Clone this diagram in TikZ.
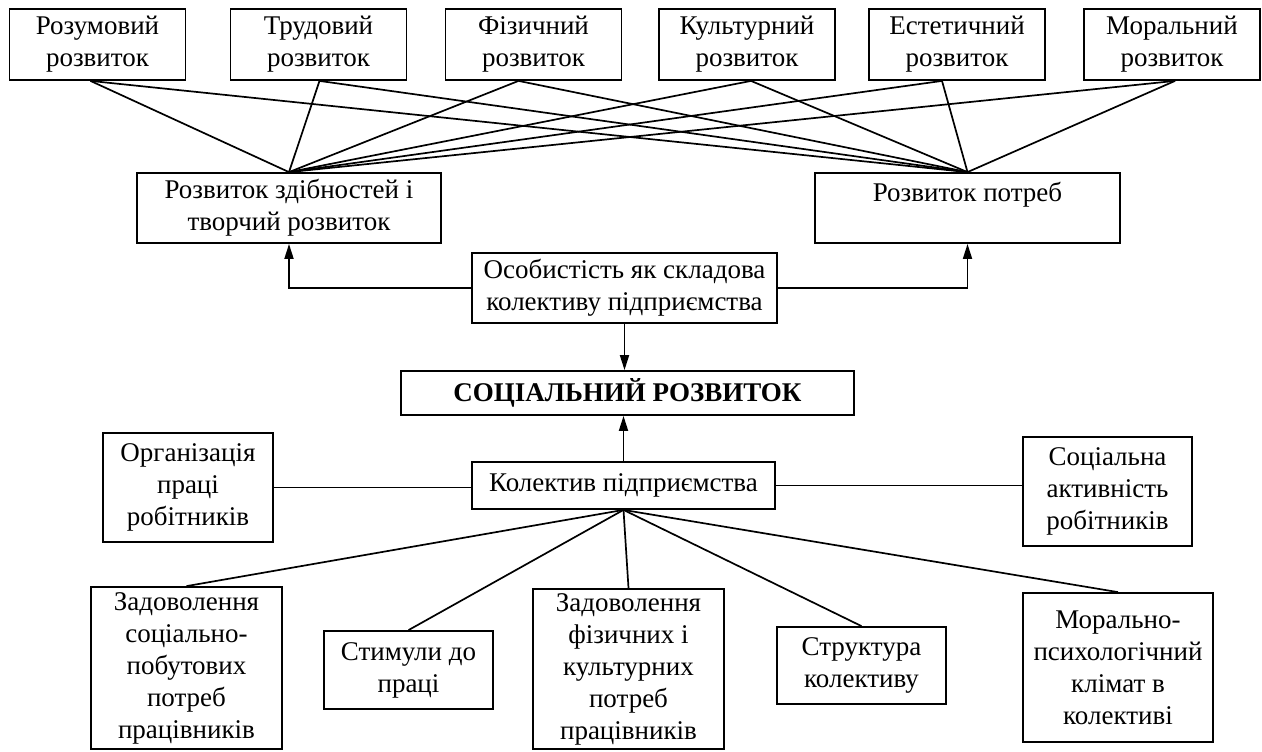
\documentclass[tikz,border=0pt]{standalone}
\usepackage{fontspec}
\setmainfont{Liberation Serif}
\usetikzlibrary{arrows.meta,positioning,calc}
\tikzset{
  block/.style ={draw,line width=0.9pt,align=center,inner sep=1pt,
                 font=\fontsize{13.5}{16}\selectfont},
  devbox/.style={block,minimum width=88pt,minimum height=35.5pt},
  link/.style  ={line width=0.85pt},
  flow/.style  ={-{Triangle[length=7.5pt,width=4.5pt]},line width=0.9pt},
}

\begin{document}
\begin{tikzpicture}[x=0.5pt,y=-0.5pt]
  \useasboundingbox (0,0) rectangle (1262,751);
  % kinds of development
  \node[devbox] (roz)  at (97.5,44.5)  {Розумовий\\розвиток};
  \node[devbox] (trud) at (318.5,44.5) {Трудовий\\розвиток};
  \node[devbox] (fiz)  at (533.5,44.5) {Фізичний\\розвиток};
  \node[devbox] (kult) at (747,44.5)   {Культурний\\розвиток};
  \node[devbox] (est)  at (957,44.5)   {Естетичний\\розвиток};
  \node[devbox] (mor)  at (1172,44.5)  {Моральний\\розвиток};
  % abilities and needs
  \node[block,minimum width=152pt,minimum height=35pt] (zdib) at (289,208)
    {Розвиток здібностей і\\творчий розвиток};
  \node[block,minimum width=152.5pt,minimum height=35pt] (potr) at (967.5,208)
    {Розвиток потреб\\\mbox{}};
  \foreach \n/\d in {roz/-7,trud/1,fiz/-15,kult/4,est/-15,mor/3}{
    \draw[link] ($(\n.south)+(\d,0)$) -- (zdib.north);
    \draw[link] ($(\n.south)+(\d,0)$) -- (potr.north);
  }
  % personality
  \node[block,minimum width=152.5pt,minimum height=35pt] (osob) at (624.5,288)
    {Особистість як складова\\колективу підприємства};
  \draw[flow] (osob.west) -| (zdib.south);
  \draw[flow] (osob.east) -| (potr.south);
  % social development
  \node[block,minimum width=226.5pt,minimum height=22pt,font=\fontsize{13.5}{16}\selectfont\bfseries]
    (soc) at (627.5,393) {СОЦІАЛЬНИЙ РОЗВИТОК};
  \draw[flow] (osob.south) -- (osob.south |- soc.north);
  % collective
  \node[block,minimum width=151.5pt,minimum height=23.5pt] (kol) at (623.5,485.5)
    {Колектив підприємства};
  \draw[flow] (kol.north) -- (kol.north |- soc.south);
  \node[block,minimum width=85pt,minimum height=54.5pt] (org) at (188,487.5)
    {Організація\\праці\\робітників};
  \node[block,minimum width=84.5pt,minimum height=54.5pt] (akt) at (1107.5,491.5)
    {Соціальна\\активність\\робітників};
  \draw[link] (org.east) -- (org.east -| kol.west);
  \draw[link] (kol.east) -- (kol.east -| akt.west);
  % factors
  \node[block,minimum width=95.5pt,minimum height=81pt] (zsp) at (186.5,668)
    {Задоволення\\соціально-\\побутових\\потреб\\працівників};
  \node[block,minimum width=84.5pt,minimum height=39pt] (stym) at (408.5,670)
    {Стимули до\\праці};
  \node[block,minimum width=95.5pt,minimum height=80pt] (zfk) at (628.5,669)
    {Задоволення\\фізичних і\\культурних\\потреб\\працівників};
  \node[block,minimum width=84.5pt,minimum height=38.5pt] (strk) at (861.5,665.5)
    {Структура\\колективу};
  \node[block,minimum width=95pt,minimum height=74.5pt] (mpk) at (1118,667.5)
    {Морально-\\психологічний\\клімат в\\колективі};
  \foreach \n in {zsp,stym,zfk,strk,mpk}
    \draw[link] (kol.south) -- (\n.north);
\end{tikzpicture}
\end{document}
